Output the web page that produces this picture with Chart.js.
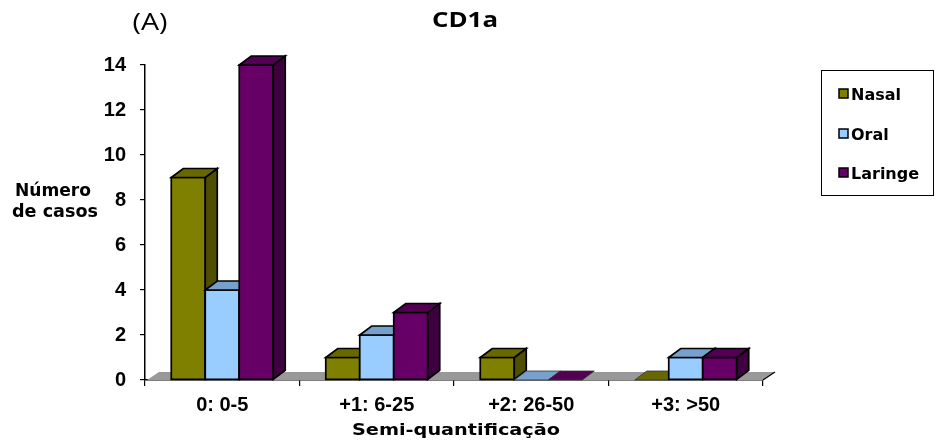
<!DOCTYPE html>
<html>
<head>
<meta charset="utf-8">
<script src="https://cdn.jsdelivr.net/npm/chart.js@4/dist/chart.umd.min.js"></script>
<style>
  html, body { margin: 0; padding: 0; background: #ffffff; }
  #wrap { width: 938px; height: 442px; position: relative; }
</style>
</head>
<body>
<div id="wrap"><canvas id="chart" width="938" height="442"></canvas></div>
<script>
// Semi-quantification classes and number of cases per site
const categories = ['0: 0-5', '+1: 6-25', '+2: 26-50', '+3: >50'];
const seriesNames = ['Nasal', 'Oral', 'Laringe'];
const nasal = [9, 1, 1, 0];
const oral = [4, 2, 0, 1];
const laringe = [14, 3, 0, 1];
const yMin = 0, yMax = 14, yStep = 2;

const chartTitle = 'CD1a';
const panelLabel = '(A)';
const yTitleLines = ['Número', 'de casos'];
const xTitle = 'Semi-quantificação';

// face colours: front, top, side
const palette = [
  { front: '#808000', top: '#686800', side: '#4f4f00' },
  { front: '#99ccff', top: '#77a0cc', side: '#5d7fa3' },
  { front: '#660066', top: '#530053', side: '#3e003e' }
];

const DEPTH_X = 12, DEPTH_Y = 9;

function poly(ctx, pts, fill, stroke, lw) {
  ctx.beginPath();
  ctx.moveTo(pts[0][0], pts[0][1]);
  for (let i = 1; i < pts.length; i++) ctx.lineTo(pts[i][0], pts[i][1]);
  ctx.closePath();
  if (fill) { ctx.fillStyle = fill; ctx.fill(); }
  if (stroke) { ctx.strokeStyle = stroke; ctx.lineWidth = lw || 1; ctx.stroke(); }
}

// text squeezed or stretched horizontally to a given width
function fitText(ctx, text, cx, baseline, font, width, color) {
  ctx.save();
  ctx.font = font;
  ctx.fillStyle = color || '#000';
  ctx.textBaseline = 'alphabetic';
  ctx.textAlign = 'left';
  const w = ctx.measureText(text).width;
  const sx = width ? width / w : 1;
  ctx.translate(cx - (w * sx) / 2, baseline);
  ctx.scale(sx, 1);
  ctx.fillText(text, 0, 0);
  ctx.restore();
}

const floorPlugin = {
  id: 'floor3d',
  beforeDatasetsDraw(chart) {
    const { ctx, chartArea: a } = chart;
    ctx.save();
    poly(ctx, [[a.left + 2, a.bottom], [a.right, a.bottom], [a.right + DEPTH_X, a.bottom - DEPTH_Y + 1],
               [a.left + 2 + DEPTH_X, a.bottom - DEPTH_Y + 1]], '#999999', null);
    ctx.beginPath();
    ctx.moveTo(a.right, a.bottom);
    ctx.lineTo(a.right + DEPTH_X, a.bottom - DEPTH_Y + 1);
    ctx.strokeStyle = '#000';
    ctx.lineWidth = 1.2;
    ctx.stroke();
    ctx.restore();
  }
};

const barsPlugin = {
  id: 'bars3d',
  afterDatasetsDraw(chart) {
    const ctx = chart.ctx;
    ctx.save();
    ctx.lineJoin = 'miter';
    const n = chart.data.labels.length;
    for (let c = 0; c < n; c++) {
      chart.data.datasets.forEach((ds, di) => {
        const el = chart.getDatasetMeta(di).data[c];
        const col = palette[di];
        const L = el.x - el.width / 2, R = el.x + el.width / 2;
        const T = el.y, B = el.base;
        if (B - T > 0.5) {
          poly(ctx, [[L, T], [R, T], [R, B], [L, B]], col.front, '#000', 1.7);
          poly(ctx, [[R, B], [R, T], [R + DEPTH_X, T - DEPTH_Y], [R + DEPTH_X, B - DEPTH_Y]], col.side, '#000', 1.7);
          poly(ctx, [[L, T], [R, T], [R + DEPTH_X, T - DEPTH_Y], [L + DEPTH_X, T - DEPTH_Y]], col.top, '#000', 1.7);
        } else {
          poly(ctx, [[L, B], [R, B], [R + DEPTH_X, B - DEPTH_Y], [L + DEPTH_X, B - DEPTH_Y]], col.top, '#333', 0.8);
        }
      });
    }
    ctx.restore();
  }
};

const textPlugin = {
  id: 'texts',
  afterDraw(chart) {
    const ctx = chart.ctx;
    fitText(ctx, panelLabel, 150, 30, '23px "Open Sans"', 35);
    fitText(ctx, chartTitle, 465, 27, 'bold 21px "Open Sans"', 66);
    fitText(ctx, yTitleLines[0], 53, 196, 'bold 17px "DejaVu Sans"', 76);
    fitText(ctx, yTitleLines[1], 55, 217, 'bold 17px "DejaVu Sans"', 86);
    fitText(ctx, xTitle, 456, 435, 'bold 16px "DejaVu Sans"', 208);

    // legend
    ctx.save();
    ctx.strokeStyle = '#000';
    ctx.lineWidth = 1;
    ctx.strokeRect(821.5, 70.5, 112, 125);
    const baselines = [100, 140, 179];
    seriesNames.forEach((name, i) => {
      ctx.fillStyle = palette[i].front;
      ctx.fillRect(839, baselines[i] - 11, 9, 9);
      ctx.strokeStyle = '#000';
      ctx.lineWidth = 1.5;
      ctx.strokeRect(839, baselines[i] - 11, 9, 9);
      ctx.font = 'bold 16px "DejaVu Sans"';
      ctx.fillStyle = '#000';
      ctx.textAlign = 'left';
      ctx.textBaseline = 'alphabetic';
      ctx.fillText(name, 851, baselines[i]);
    });
    ctx.restore();
  }
};

const tickFont = { family: '"Liberation Sans", Arial, sans-serif', size: 20, weight: 'bold' };

new Chart(document.getElementById('chart'), {
  type: 'bar',
  data: {
    labels: categories,
    datasets: [
      { label: seriesNames[0], data: nasal },
      { label: seriesNames[1], data: oral },
      { label: seriesNames[2], data: laringe }
    ].map(d => Object.assign(d, { backgroundColor: 'rgba(0,0,0,0)', borderWidth: 0 }))
  },
  options: {
    responsive: false,
    animation: false,
    events: [],
    datasets: { bar: { barPercentage: 1, categoryPercentage: 0.66 } },
    layout: { padding: { top: 65, right: 175, left: 0, bottom: 0 } },
    plugins: { legend: { display: false }, title: { display: false }, tooltip: { enabled: false } },
    scales: {
      x: {
        afterFit(s) { s.height = 62; },
        grid: { display: true, offset: true, drawOnChartArea: false, drawTicks: true, tickLength: 6, color: '#000', lineWidth: 1.2 },
        border: { display: true, color: '#000', width: 1.5 },
        ticks: { color: '#000', font: tickFont, padding: 7, maxRotation: 0, autoSkip: false }
      },
      y: {
        min: yMin, max: yMax,
        afterFit(s) { s.width = 145; },
        grid: { display: true, drawOnChartArea: false, drawTicks: true, tickLength: 5, color: '#000', lineWidth: 1.2 },
        border: { display: true, color: '#000', width: 1.5 },
        ticks: { stepSize: yStep, color: '#000', font: tickFont, padding: 14 }
      }
    }
  },
  plugins: [floorPlugin, barsPlugin, textPlugin]
});
</script>
</body>
</html>
